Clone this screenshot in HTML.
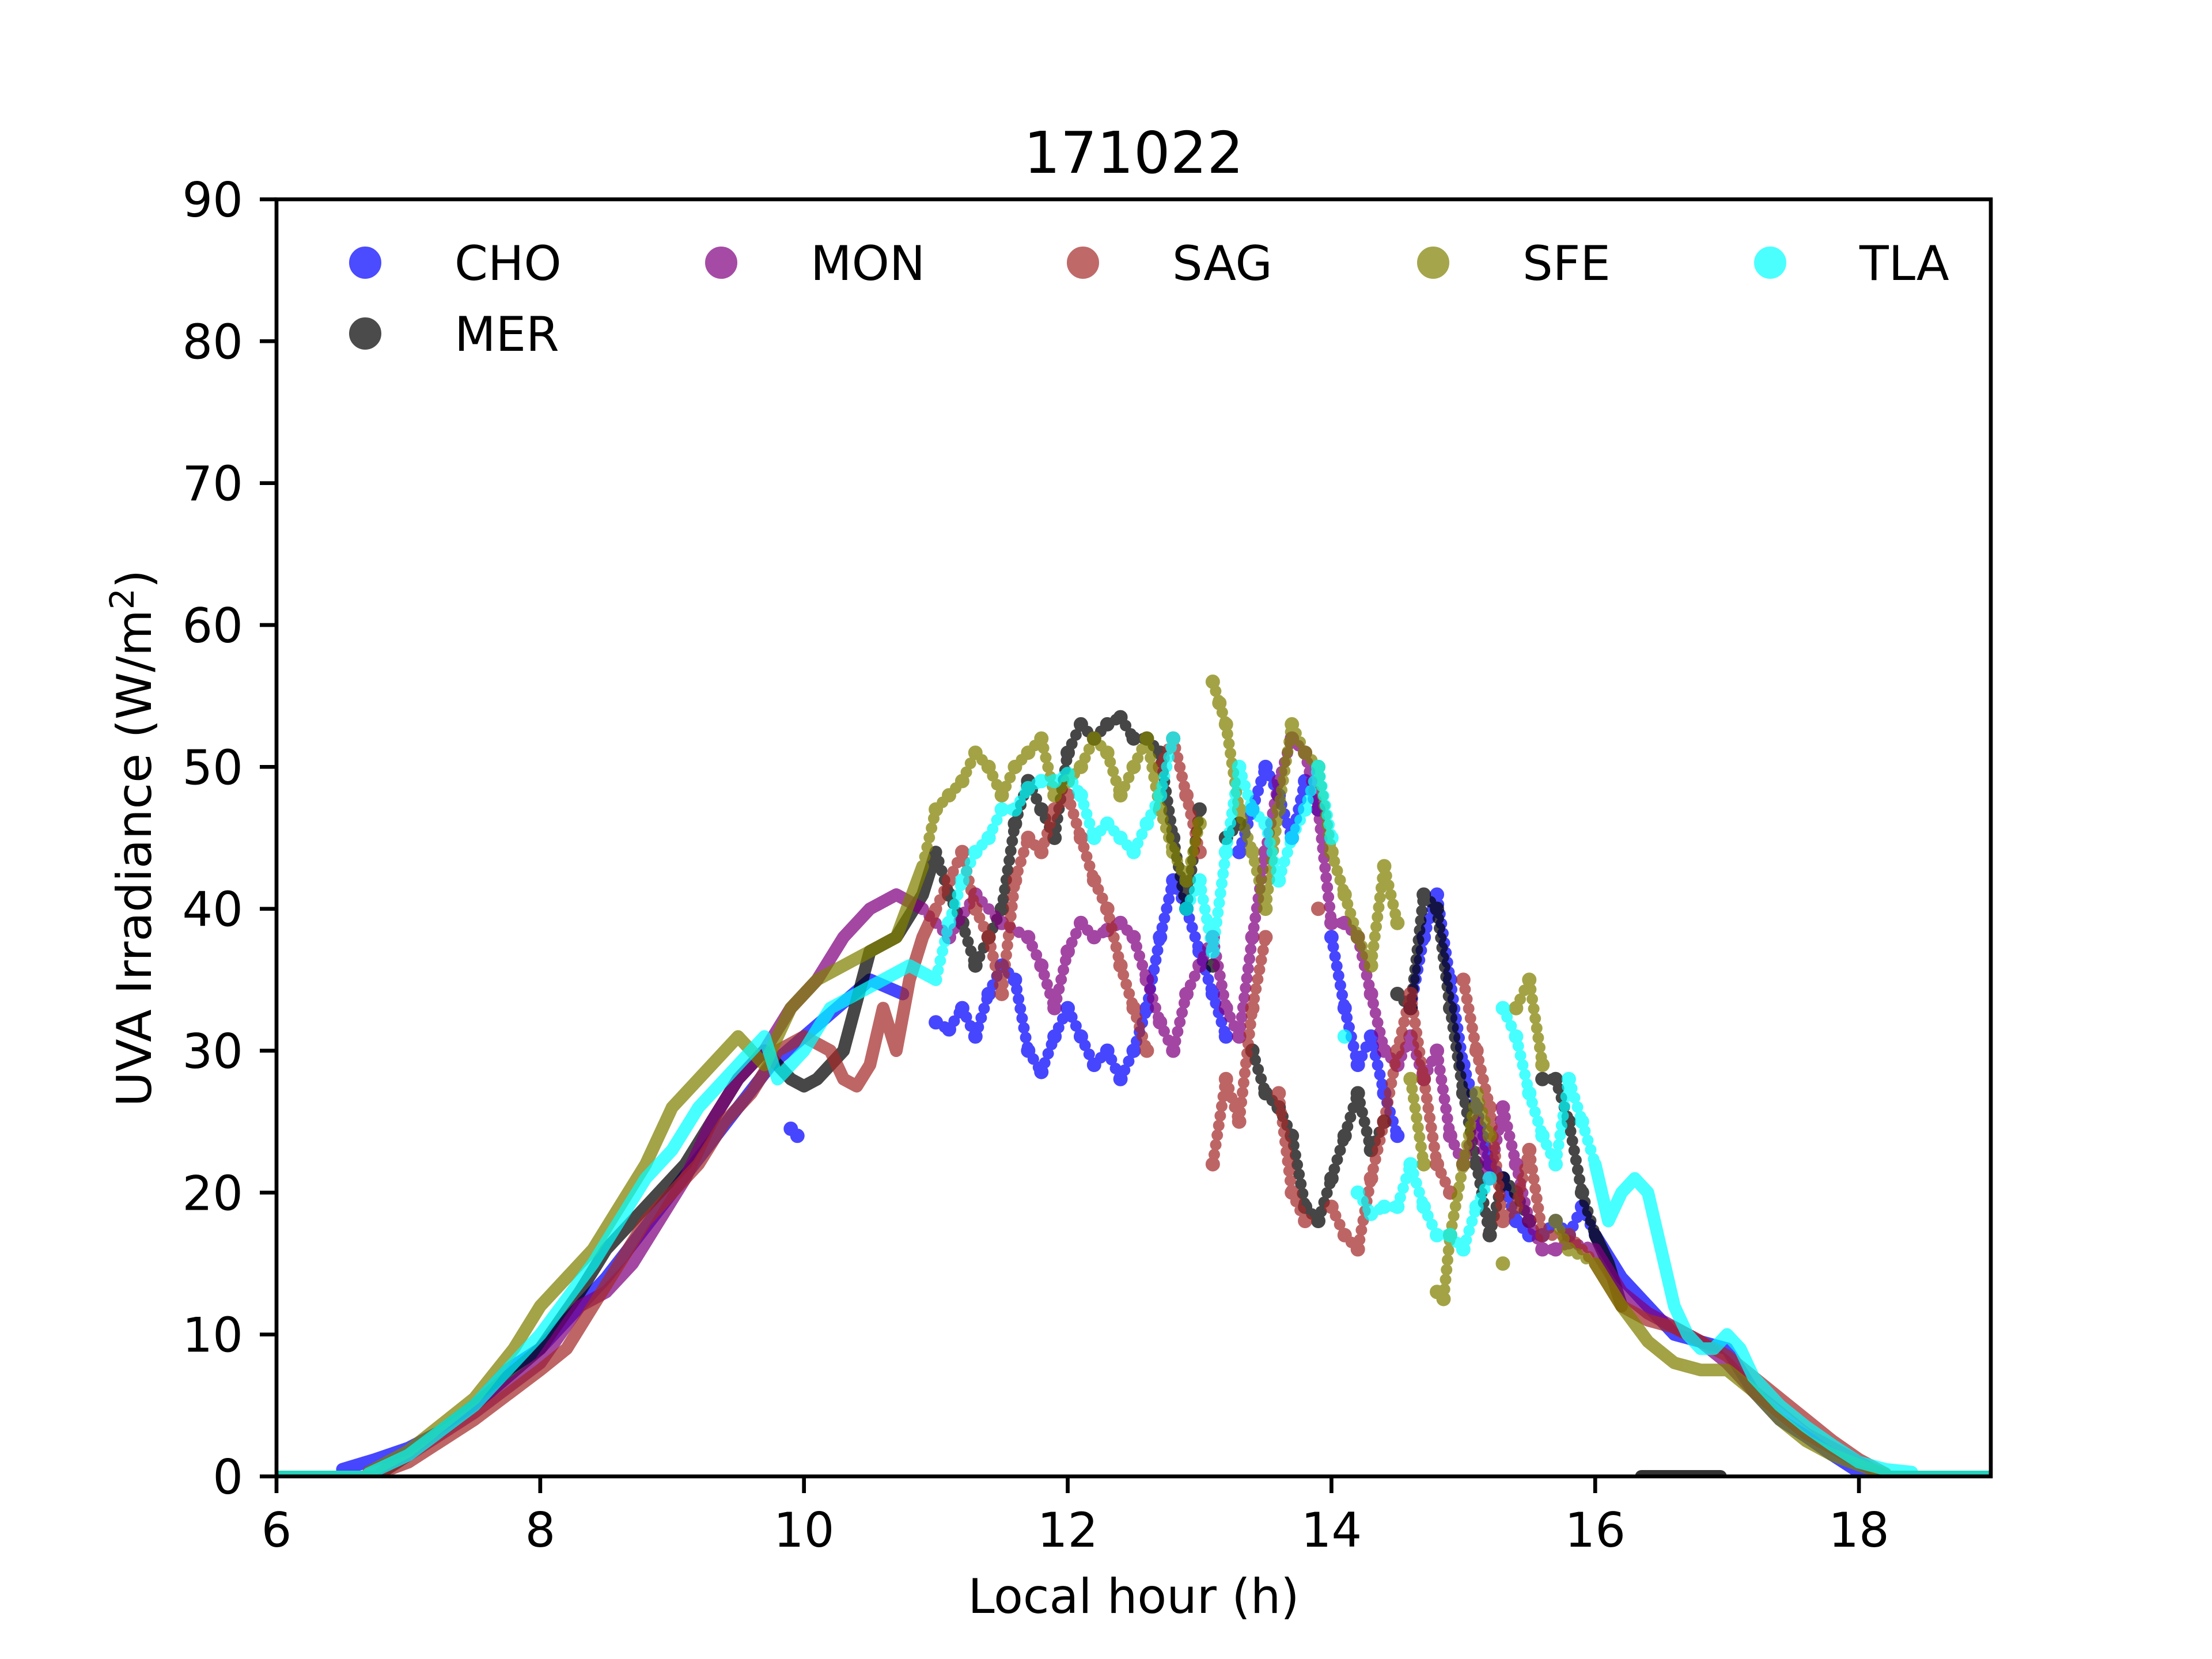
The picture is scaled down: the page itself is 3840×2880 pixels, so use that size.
<!DOCTYPE html>
<html><head><meta charset="utf-8">
<style>
html,body{margin:0;padding:0;background:#fff;}
svg{display:block;}
text{font-family:"DejaVu Sans","Liberation Sans",sans-serif;fill:#000;}
</style></head>
<body>
<svg id="chart" width="3840" height="2880" viewBox="0 0 3840 2880" xmlns="http://www.w3.org/2000/svg">
<rect width="3840" height="2880" fill="#fff"/>
<text x="1968" y="300" font-size="100" text-anchor="middle">171022</text>
<g id="plot"></g>
<g id="axes"></g>
<text x="1968" y="2800" font-size="83" text-anchor="middle">Local hour (h)</text>
<text transform="translate(262,1455) rotate(-90)" font-size="83" text-anchor="middle">UVA Irradiance (W/m<tspan font-size="58" dy="-30">2</tspan><tspan dy="30">)</tspan></text>
<g id="legend"></g>
</svg>
<script>
const xTicks=[6,8,10,12,14,16,18];
const yTicks=[0,10,20,30,40,50,60,70,80,90];
const seriesNames=["CHO","MER","MON","SAG","SFE","TLA"];
const seriesColors=["#0000ff","#000000","#800080","#a52a2a","#808000","#00ffff"];

const choUpX=[6.5,6.75,7,7.25,7.5,7.75,8,8.25,8.5,8.75,9,9.25,9.5,9.75,10,10.25,10.5,10.75];
const choUpY=[0.5,1.2,2,3.2,5,7.5,9,11.5,14,17,20,23,26,29,31,33,35,34];
const choMidX=[9.9,9.95,11.0,11.1,11.2,11.3,11.4,11.5,11.6,11.7,11.8,11.9,12.0,12.1,12.2,12.3,12.4,12.5,12.6,12.7,12.8,12.9,13.0,13.1,13.2,13.3,13.4,13.5,13.6,13.7,13.8,13.9,14.0,14.1,14.2,14.3,14.4,14.5,14.6,14.7,14.8,14.9,15.0,15.1,15.2,15.3,15.4,15.5,15.6,15.7,15.8,15.9];
const choMidY=[24.5,24,32,31.5,33,31,34,36,35,30,28.5,31,33,31,29,30,28,30,33,38,42,40,37,34,31,44,47,50,48,45,49,47,38,33,29,31,27,24,33,38,41,35,29,26,22,21,18,17,17,18,17,19];
const choDownX=[16.0,16.2,16.4,16.6,16.8,17.0,17.2,17.4,17.6,17.8,18.0,18.1];
const choDownY=[17,14,12,10,9.5,9,6,4,2.8,1.5,0.3,0];

const merUpX=[6.8,7,7.5,8,8.3,8.5,8.7,8.9,9.1,9.3,9.5,9.7,9.9,10.0,10.1,10.3,10.5,10.7,10.9,11.0];
const merUpY=[0.3,1.5,5,9,13,16,18,20,22,25,28,30,28,27.5,28,30,37,38,41,44];
const merMidX=[11.1,11.2,11.3,11.4,11.5,11.6,11.7,11.8,11.9,12.0,12.1,12.2,12.3,12.4,12.5,12.6,12.7,12.8,12.9,13.0,13.1,13.2,13.3,13.4,13.5,13.6,13.7,13.8,13.9,14.0,14.1,14.2,14.3,14.4,14.5,14.6,14.7,14.8,14.9,15.0,15.1,15.2,15.3,15.4,15.5,15.6,15.7,15.8,15.9];
const merMidY=[41,39,36,38,40,46,49,47,45,51,53,52,53,53.5,52,52,51,45,40,47,36,45,46,30,27,26,24,19,18,21,24,27,23,25,34,33,41,40,33,27,22,17,21,20,18,28,28,25,20];
const merDownX=[16.0,16.1,16.2];
const merDownY=[17,15,12];
const merZeroX=[16.35,16.5,16.65,16.8,16.95];
const merZeroY=[0,0,0,0,0];

const monUpX=[6.7,7,7.5,8,8.3,8.5,8.7,8.9,9.1,9.3,9.5,9.7,9.9,10.1,10.3,10.5,10.7,10.9];
const monUpY=[0.3,1.5,4.5,8,12,13,15,18,21,25,28,30,33,35,38,40,41,40];
const monMidX=[11.1,11.3,11.5,11.7,11.8,11.9,12.0,12.1,12.2,12.3,12.4,12.5,12.6,12.7,12.8,12.9,13.0,13.1,13.2,13.3,13.4,13.5,13.6,13.7,13.8,13.9,14.0,14.1,14.2,14.3,14.4,14.5,14.6,14.7,14.8,14.9,15.0,15.1,15.2,15.3,15.4,15.5,15.6,15.7,15.8];
const monMidY=[38,41,39,38,36,33,37,39,38,38.5,39,38,35,32,30,34,36,38,33,31,38,44,49,52,51,47,39,39,38,34,30,29,31,28,30,24,22,25,21,26,22,18,16,16,16.5];
const monDownX=[16.0,16.2,16.4,16.6,16.8,17.0,17.2,17.4,17.6,17.8,18.0,18.2];
const monDownY=[16,13,11.5,10.5,9.5,8,6,4.5,3,2,1,0];

const sagUpX=[6.8,7,7.5,8,8.2,8.4,8.6,8.8,9,9.2,9.4,9.6,9.8,10,10.2,10.3,10.4,10.5,10.6,10.7,10.8,10.9,11.0];
const sagUpY=[0.3,1,4,7.5,9,12,15,18,20,22,25,27,30,31,30,28,27.5,29,33,30,35,38,40];
const sagMidX=[11.1,11.2,11.3,11.4,11.5,11.6,11.7,11.8,11.9,12.0,12.1,12.2,12.3,12.4,12.5,12.6,12.7,12.8,12.9,13.0,13.1,13.2,13.3,13.4,13.5,13.6,13.7,13.8,13.9,14.0,14.1,14.2,14.3,14.4,14.5,14.6,14.7,14.8,14.9,15.0,15.1,15.2,15.3,15.4,15.5,15.6,15.8];
const sagMidY=[42,44,40,38,34,42,45,44,47,48,45,42,40,36,33,30,50,52,48,44,22,28,25,33,38,27,20,18,40,19,17,16,21,25,30,34,28,22,20,35,30,26,18,19,23,17,17];
const sagDownX=[16.0,16.2,16.4,16.6,16.8,17.0,17.2,17.4,17.6,17.8,18.0,18.2];
const sagDownY=[15,12,11,10.5,9.5,8.5,7,5.5,4,2.5,1.2,0.2];

const sfeUpX=[6.7,7,7.5,7.8,8,8.2,8.4,8.6,8.8,9,9.2,9.4,9.5,9.7,9.9,10.1,10.3,10.5,10.7,10.9];
const sfeUpY=[0.3,1.8,5.5,9,12,14,16,19,22,26,28,30,31,29,33,35,36,37,38,43];
const sfeMidX=[11.0,11.1,11.2,11.3,11.4,11.5,11.6,11.7,11.8,11.9,12.0,12.1,12.2,12.3,12.4,12.5,12.6,12.7,12.8,12.9,13.0,13.1,13.15,13.2,13.3,13.4,13.5,13.6,13.7,13.8,13.9,14.0,14.1,14.2,14.3,14.4,14.5,14.6,14.7,14.8,14.85,14.9,15.0,15.1,15.2,15.3,15.4,15.5,15.6,15.7,15.8];
const sfeMidY=[47,48,49,51,50,48,50,51,52,48,49,50,52,51,48,50,52,47,44,42,46,56,54.5,53,47,44,40,47,53,51,50,44,41,38,36,43,39,28,22,13,12.5,17,22,27,24,15,33,35,29,18,16];
const sfeDownX=[16.0,16.2,16.4,16.6,16.8,17.0,17.2,17.4,17.6,17.8,18.0,18.2];
const sfeDownY=[15,12,9.5,8,7.5,7.5,6,4,2.5,1.5,0.8,0.2];

const tlaUpX=[6.7,7,7.5,7.8,8,8.2,8.4,8.6,8.8,9,9.2,9.4,9.6,9.7,9.8,10,10.2,10.4,10.6,10.8,11.0];
const tlaUpY=[0.2,1.5,5,8,10,12.5,15,18,21,23,26,28,30,31,28,30,33,34,35,36,35];
const tlaMidX=[11.1,11.2,11.3,11.4,11.5,11.6,11.7,11.8,11.9,12.0,12.1,12.2,12.3,12.4,12.5,12.6,12.7,12.8,12.9,13.0,13.1,13.2,13.3,13.4,13.5,13.6,13.7,13.8,13.9,14.0,14.1,14.2,14.3,14.4,14.5,14.6,14.7,14.8,14.9,15.0,15.1,15.2,15.3,15.4,15.5,15.6,15.7,15.8,15.9];
const tlaMidY=[39,42,44,45,47,47,48.5,49,49,49.5,48,45,46,45,44,46,48,52,40,42,37,44,50,47,46,42,45,47,50,45,31,20,18.5,19,19,22,19,17,17,16,19,21,33,31,27,24,22,28,25];
const tlaDownX=[16.0,16.1,16.2,16.3,16.4,16.5,16.6,16.7,16.8,16.9,17.0,17.1,17.2,17.4,17.6,17.8,18.0,18.2,18.4];
const tlaDownY=[22,18,20,21,20,16,12,10,9,9,10,9,7,5,3.5,2.2,1,0.5,0.3];

const seriesUpX=[choUpX,merUpX,monUpX,sagUpX,sfeUpX,tlaUpX];
const seriesUpY=[choUpY,merUpY,monUpY,sagUpY,sfeUpY,tlaUpY];
const seriesMidX=[choMidX,merMidX,monMidX,sagMidX,sfeMidX,tlaMidX];
const seriesMidY=[choMidY,merMidY,monMidY,sagMidY,sfeMidY,tlaMidY];
const seriesDownX=[choDownX,merDownX,monDownX,sagDownX,sfeDownX,tlaDownX];
const seriesDownY=[choDownY,merDownY,monDownY,sagDownY,sfeDownY,tlaDownY];

const X0=480,X1=3456,Y0=2563,Y1=346;
const xMin=6,xMax=19,yMin=0,yMax=90;
function sx(v){return X0+(v-xMin)/(xMax-xMin)*(X1-X0);}
function sy(v){return Y0-(v-yMin)/(yMax-yMin)*(Y0-Y1);}
const NS="http://www.w3.org/2000/svg";
function mk(tag,attrs,parent){const e=document.createElementNS(NS,tag);for(const k in attrs)e.setAttribute(k,attrs[k]);parent.appendChild(e);return e;}

const plot=document.getElementById('plot');
const cp=mk('clipPath',{id:'clip'},plot);
mk('rect',{x:X0,y:Y1,width:X1-X0,height:Y0-Y1},cp);
const pg=mk('g',{'clip-path':'url(#clip)'},plot);

seriesNames.forEach((name,i)=>{
  const col=seriesColors[i];
  const g=mk('g',{opacity:0.72},pg);
  
  
  const ux=seriesUpX[i],uy=seriesUpY[i],dx=seriesDownX[i],dy=seriesDownY[i];
  const mx=seriesMidX[i],my=seriesMidY[i];
  const b1=mk('polyline',{points:sx(xMin)+','+sy(0)+' '+sx(ux[0])+','+sy(0),fill:'none',stroke:col,'stroke-width':20,'stroke-linecap':'round'},g);
  
  
  const up=mk('polyline',{points:ux.map((x,k)=>sx(x)+','+sy(uy[k])).join(' '),fill:'none',stroke:col,'stroke-width':22,'stroke-linecap':'round','stroke-linejoin':'round'},g);
  
  
  const dn=mk('polyline',{points:dx.map((x,k)=>sx(x)+','+sy(dy[k])).join(' '),fill:'none',stroke:col,'stroke-width':22,'stroke-linecap':'round','stroke-linejoin':'round'},g);
  
  
  if(name!=='MER'){
    const b2=mk('polyline',{points:sx(dx[dx.length-1])+','+sy(0)+' '+sx(xMax)+','+sy(0),fill:'none',stroke:col,'stroke-width':20},g);
    
    
  }
  const allX=[ux[ux.length-1]].concat(mx,[dx[0]]);
  const allY=[uy[uy.length-1]].concat(my,[dy[0]]);
  let d='';
  for(let k=1;k<allX.length;k++){
    const gx=allX[k]-allX[k-1];
    if(Math.abs(allY[k]-allY[k-1])<=8 && gx>0 && gx<=0.21){
      d+='M'+sx(allX[k-1])+','+sy(allY[k-1])+'L'+sx(allX[k])+','+sy(allY[k]);
    }
  }
  const trail=mk('path',{d:d,fill:'none',stroke:col,'stroke-width':20,'stroke-linecap':'round','stroke-dasharray':'0 17'},g);
  
  
  mx.forEach((x,k)=>{
    const c=mk('circle',{cx:sx(x),cy:sy(my[k]),r:11,fill:col,stroke:col,'stroke-width':3},g);
    
    
  });
});

const mz=mk('polyline',{points:merZeroX.map((x,k)=>sx(x)+','+sy(merZeroY[k])).join(' '),fill:'none',stroke:'#000','stroke-width':22,'stroke-linecap':'round',opacity:0.8},pg);



const ax=document.getElementById('axes');
const frame=mk('rect',{x:X0,y:Y1,width:X1-X0,height:Y0-Y1,fill:'none',stroke:'#000','stroke-width':6.7},ax);


xTicks.forEach(t=>{
  const l=mk('line',{x1:sx(t),x2:sx(t),y1:Y0,y2:Y0+29,stroke:'#000','stroke-width':6.7},ax);
  
  
  const tx=mk('text',{x:sx(t),y:Y0+122,'font-size':83,'text-anchor':'middle'},ax);
  tx.textContent=t;
  
  
});
yTicks.forEach(t=>{
  const l=mk('line',{x1:X0-29,x2:X0,y1:sy(t),y2:sy(t),stroke:'#000','stroke-width':6.7},ax);
  
  
  const tx=mk('text',{x:X0-58,y:sy(t)+30,'font-size':83,'text-anchor':'end'},ax);
  tx.textContent=t;
  
  
});

const legendNames=["CHO","MON","SAG","SFE","TLA","MER"];
const legendColors=["#0000ff","#800080","#a52a2a","#808000","#00ffff","#000000"];
const legMarkerX=[634,1252,1880,2488,3073,634];
const legRowY=[456,456,456,456,456,579];
const lg=document.getElementById('legend');
legendNames.forEach((n,i)=>{
  const e=mk('g',{},lg);
  
  
  mk('circle',{cx:legMarkerX[i],cy:legRowY[i],r:25,fill:legendColors[i],stroke:legendColors[i],'stroke-width':6,opacity:0.7},e);
  const t=mk('text',{x:legMarkerX[i]+155,y:legRowY[i]+30,'font-size':83},e);
  t.textContent=n;
});
</script>
</body></html>
